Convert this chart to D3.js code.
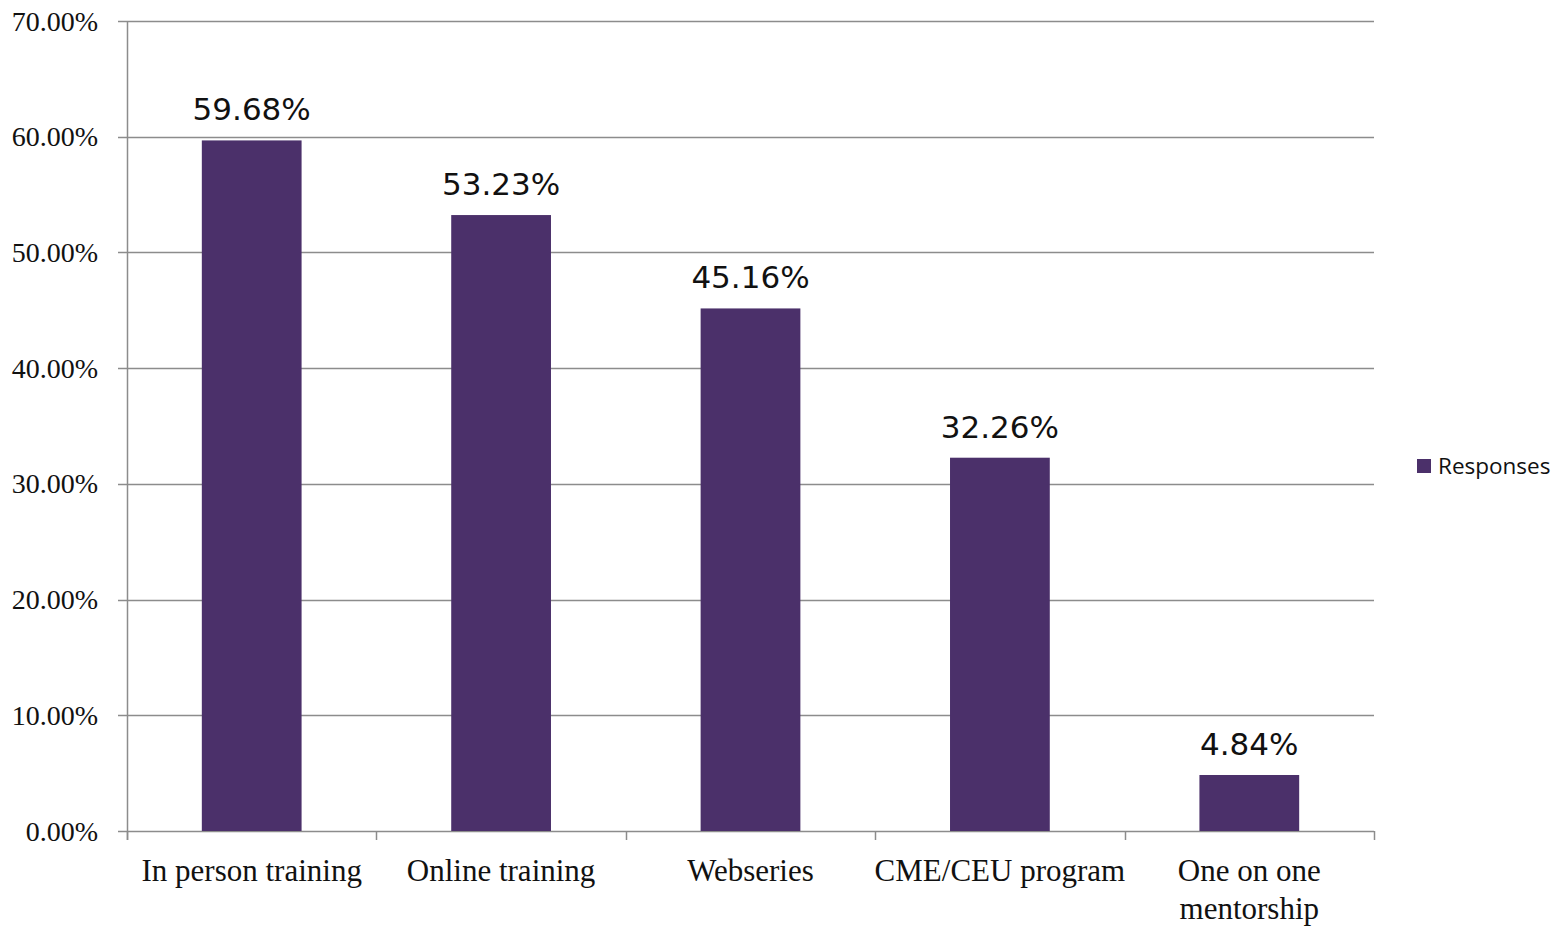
<!DOCTYPE html>
<html>
<head>
<meta charset="utf-8">
<script src="https://cdn.jsdelivr.net/npm/d3@7"></script>
<style>
  html, body { margin: 0; padding: 0; background: #fff; }
  svg { display: block; }
</style>
</head>
<body>
<svg id="chart" width="1567" height="927"></svg>
<script>
// Survey responses by preferred training format
const categories = ["In person training", "Online training", "Webseries", "CME/CEU program", "One on one mentorship"];
const categoryLines = [["In person training"], ["Online training"], ["Webseries"], ["CME/CEU program"], ["One on one", "mentorship"]];
const responses = [59.68, 53.23, 45.16, 32.26, 4.84];
const yTicks = [0, 10, 20, 30, 40, 50, 60, 70];
const seriesName = "Responses";

const svg = d3.select("#chart");
const margin = { left: 127, right: 1567 - 1374, top: 21, bottom: 927 - 831 };
const W = 1567, H = 927;
const barColor = "#4b306a";
const gridColor = "#8c8c8c";
const serif = "'Liberation Serif', 'DejaVu Serif', serif";

const x = d3.scaleBand()
  .domain(categories)
  .range([margin.left, W - margin.right])
  .paddingInner(0.6)
  .paddingOuter(0.3);

const xBand = d3.scaleBand()
  .domain(categories)
  .range([margin.left, W - margin.right]);

const y = d3.scaleLinear()
  .domain([0, 70])
  .range([H - margin.bottom, margin.top]);

// horizontal gridlines
svg.append("g")
  .selectAll("line")
  .data(yTicks)
  .join("line")
  .attr("x1", margin.left - 9)
  .attr("x2", W - margin.right)
  .attr("y1", d => Math.round(y(d)) + 0.5)
  .attr("y2", d => Math.round(y(d)) + 0.5)
  .attr("stroke", gridColor)
  .attr("stroke-width", 1.5);

// y axis labels
svg.append("g")
  .selectAll("text")
  .data(yTicks)
  .join("text")
  .attr("x", 98)
  .attr("y", d => y(d))
  .attr("dy", "0.34em")
  .attr("text-anchor", "end")
  .attr("font-family", serif)
  .attr("font-size", 28)
  .attr("fill", "#111")
  .text(d => d3.format(".2f")(d) + "%");

// y axis line
svg.append("line")
  .attr("x1", margin.left + 0.5).attr("x2", margin.left + 0.5)
  .attr("y1", y(70)).attr("y2", y(0) + 9)
  .attr("stroke", gridColor).attr("stroke-width", 1.5);

// x axis category boundary ticks
const bounds = categories.map(c => xBand(c)).concat([W - margin.right]);
svg.append("g")
  .selectAll("line")
  .data(bounds)
  .join("line")
  .attr("x1", d => Math.round(d) + 0.5)
  .attr("x2", d => Math.round(d) + 0.5)
  .attr("y1", y(0))
  .attr("y2", y(0) + 9)
  .attr("stroke", gridColor)
  .attr("stroke-width", 1.5);

// bars
svg.append("g")
  .selectAll("rect")
  .data(responses)
  .join("rect")
  .attr("x", (d, i) => x(categories[i]))
  .attr("width", x.bandwidth())
  .attr("y", d => y(d))
  .attr("height", d => y(0) - y(d))
  .attr("fill", barColor);

// value labels
svg.append("g")
  .selectAll("text")
  .data(responses)
  .join("text")
  .attr("x", (d, i) => x(categories[i]) + x.bandwidth() / 2)
  .attr("y", d => y(d) - 20)
  .attr("text-anchor", "middle")
  .attr("font-family", "'DejaVu Sans', 'Liberation Sans', sans-serif")
  .attr("font-size", 31)
  .attr("fill", "#111")
  .text(d => d3.format(".2f")(d) + "%");

// category labels
const catG = svg.append("g");
categories.forEach((c, i) => {
  const t = catG.append("text")
    .attr("x", xBand(c) + xBand.bandwidth() / 2)
    .attr("y", 881)
    .attr("text-anchor", "middle")
    .attr("font-family", serif)
    .attr("font-size", 31)
    .attr("fill", "#111");
  categoryLines[i].forEach((line, j) => {
    t.append("tspan")
      .attr("x", xBand(c) + xBand.bandwidth() / 2)
      .attr("dy", j === 0 ? 0 : 38)
      .text(line);
  });
});

// legend
const legend = svg.append("g").attr("transform", "translate(1417,459)");
legend.append("rect").attr("width", 14).attr("height", 14).attr("fill", barColor);
legend.append("text")
  .attr("x", 21).attr("y", 7)
  .attr("dy", "0.35em")
  .attr("font-family", "'Open Sans', 'Noto Sans', sans-serif")
  .attr("font-size", 22.5)
  .attr("fill", "#111")
  .text(seriesName);
</script>
</body>
</html>
